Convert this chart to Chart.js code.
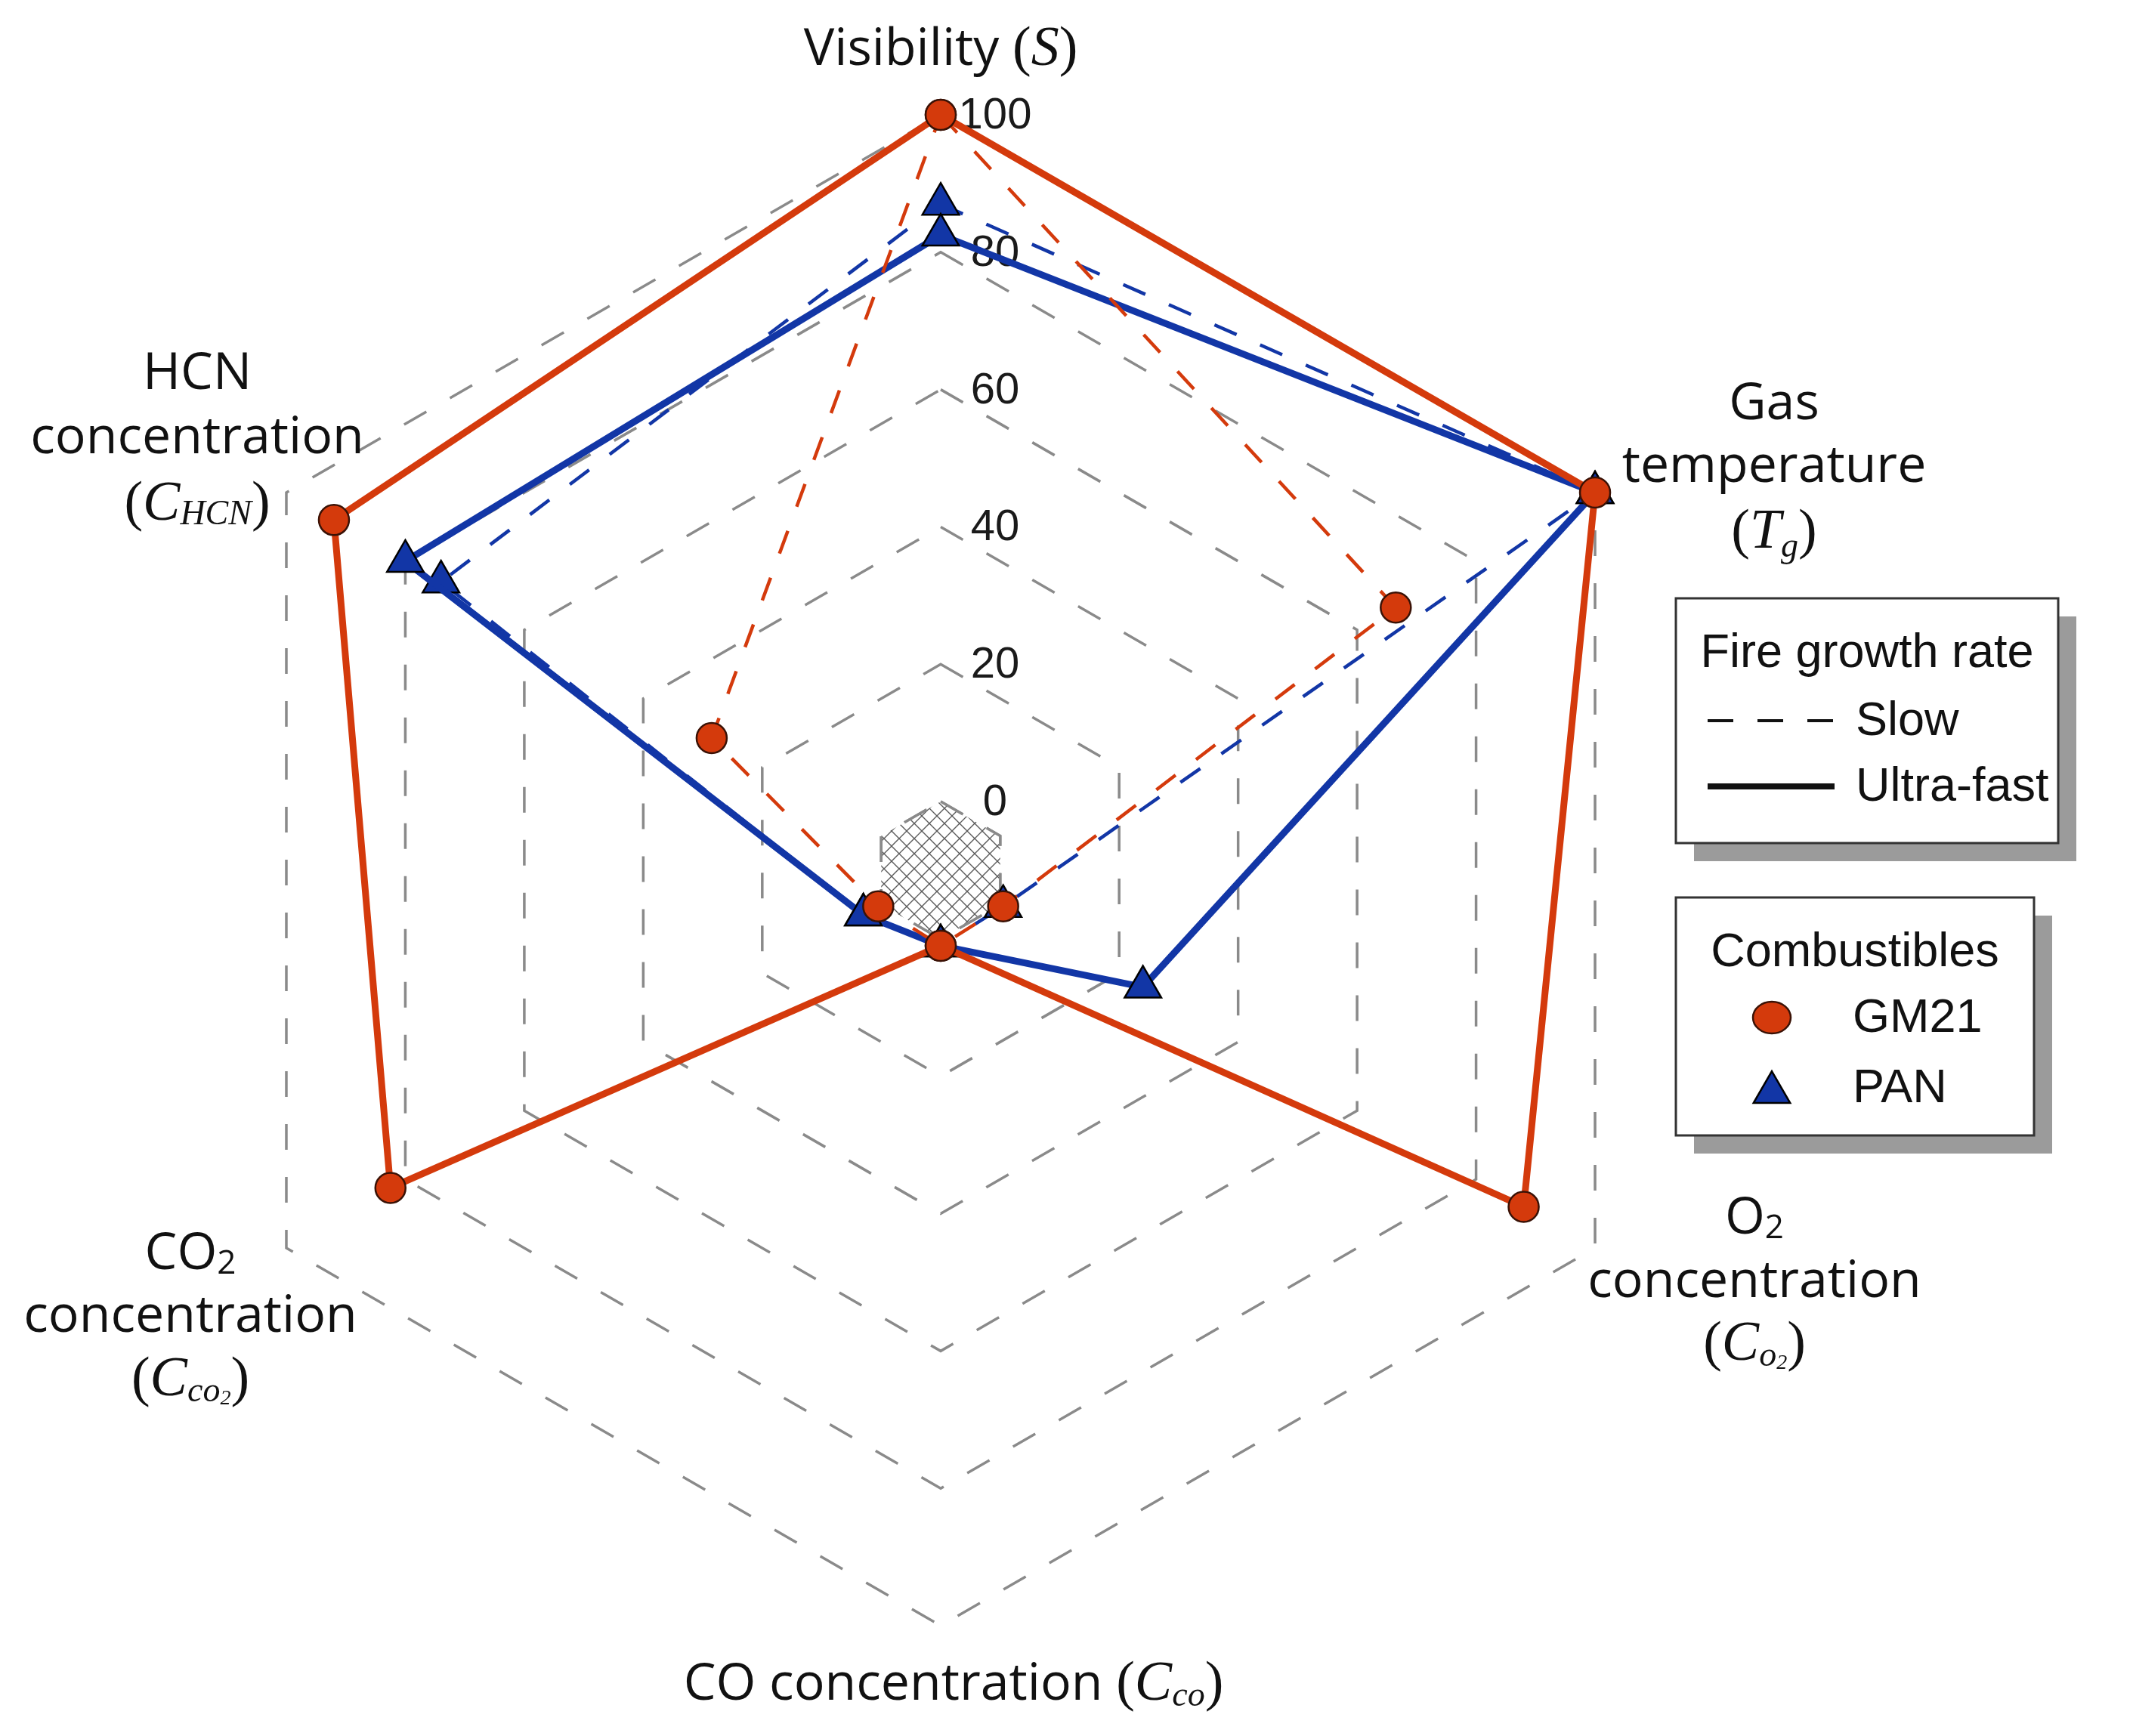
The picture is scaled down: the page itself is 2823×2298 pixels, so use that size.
<!DOCTYPE html>
<html><head><meta charset="utf-8">
<script src="https://cdn.jsdelivr.net/npm/chart.js@4.4.1/dist/chart.umd.min.js"></script>
<style>html,body{margin:0;padding:0;background:#fff;}canvas{display:block;}</style>
</head><body>
<canvas id="c" width="2823" height="2298"></canvas>
<script>
// ---- data ----
const axisNames = ['Visibility', 'Gas temperature', 'O2 concentration', 'CO concentration', 'CO2 concentration', 'HCN concentration'];
const gm21Slow  = [100, 66.5, 0.5, 1, 0.5, 28.5];
const gm21Ultra = [100, 100, 88, 1, 82.5, 92];
const panSlow   = [87, 100, 0.5, 1, 3, 74];
const panUltra  = [82.5, 100, 24, 1, 3, 80];
const tickValues = [0, 20, 40, 60, 80, 100];
const scaleMin = -10, scaleMax = 100;
const legendRateTitle = 'Fire growth rate';
const legendRateItems = ['Slow', 'Ultra-fast'];
const legendFuelTitle = 'Combustibles';
const legendFuelItems = ['GM21', 'PAN'];

const RED = '#d43a0c', BLUE = '#1236a6';
const RED_EDGE = '#3a1206', BLUE_EDGE = '#000000';
const DASH = [32, 34];

const SANS = '"Open Sans", "Liberation Sans", Arial, sans-serif';
const SERIF = '"Liberation Serif", "Times New Roman", serif';
const LSANS = '"Liberation Sans", Arial, sans-serif';

function makeHatch(ctx) {
  const s = 20;
  const p = document.createElement('canvas'); p.width = s; p.height = s;
  const g = p.getContext('2d');
  g.fillStyle = '#ffffff'; g.fillRect(0, 0, s, s);
  g.strokeStyle = '#5a5a5a'; g.lineWidth = 1.4;
  g.beginPath();
  g.moveTo(0, 0); g.lineTo(s, s);
  g.moveTo(s, 0); g.lineTo(0, s);
  g.stroke();
  return ctx.createPattern(p, 'repeat');
}

function drawRuns(ctx, runs, cx, baseline) {
  let total = 0;
  const ws = runs.map(r => { ctx.font = r[1]; const w = ctx.measureText(r[0]).width; total += w; return w; });
  let x = cx - total / 2;
  ctx.textAlign = 'left'; ctx.textBaseline = 'alphabetic';
  runs.forEach((r, i) => { ctx.font = r[1]; ctx.fillText(r[0], x, baseline + (r[2] || 0)); x += ws[i]; });
}

const F_SANS = '68px ' + SANS;
const F_SUB2 = '44px ' + SANS;
const F_SER = '74px ' + SERIF;
const F_SERI = 'italic 74px ' + SERIF;
const F_SUBI = 'italic 46px ' + SERIF;
const F_TINY = 'italic 28px ' + SERIF;

// label layout: [dx (in radii), [baseline dy...], lines]
const labelDefs = [
  [0.0, [-1.066], [[['Visibility ', F_SANS], ['(', F_SER], ['S', F_SERI], [')', F_SER]]]],
  [1.103, [-0.597, -0.514, -0.427], [[['Gas', F_SANS]], [['temperature', F_SANS]], [['(', F_SER], ['T', F_SERI], ['g', F_SUBI, 12], [')', F_SER]]]],
  [1.077, [0.481, 0.565, 0.648], [[['O', F_SANS], ['2', F_SUB2, 6]], [['concentration', F_SANS]], [['(', F_SER], ['C', F_SERI], ['o', F_SUBI, 8], ['2', F_TINY, 12], [')', F_SER]]]],
  [0.017, [1.098], [[['CO concentration ', F_SANS], ['(', F_SER], ['C', F_SERI], ['co', F_SUBI, 8], [')', F_SER]]]],
  [-0.993, [0.528, 0.611, 0.695], [[['CO', F_SANS], ['2', F_SUB2, 6]], [['concentration', F_SANS]], [['(', F_SER], ['C', F_SERI], ['co', F_SUBI, 8], ['2', F_TINY, 12], [')', F_SER]]]],
  [-0.984, [-0.637, -0.552, -0.464], [[['HCN', F_SANS]], [['concentration', F_SANS]], [['(', F_SER], ['C', F_SERI], ['HCN', F_SUBI, 6], [')', F_SER]]]]
];

const hatchPlugin = {
  id: 'hatchAndTicks',
  beforeDatasetsDraw(chart) {
    const s = chart.scales.r, ctx = chart.ctx;
    const n = chart.data.labels.length;
    ctx.save();
    ctx.beginPath();
    for (let i = 0; i < n; i++) {
      const p = s.getPointPositionForValue(i, 0);
      if (i === 0) ctx.moveTo(p.x, p.y); else ctx.lineTo(p.x, p.y);
    }
    ctx.closePath();
    ctx.fillStyle = makeHatch(ctx);
    ctx.fill();
    ctx.setLineDash([34, 36]);
    ctx.strokeStyle = '#8a8a8a'; ctx.lineWidth = 3.5;
    ctx.stroke();
    ctx.restore();
    // tick labels
    ctx.save();
    ctx.fillStyle = '#1a1a1a';
    ctx.font = '58px ' + LSANS;
    ctx.textAlign = 'center'; ctx.textBaseline = 'middle';
    tickValues.forEach(v => {
      const p = s.getPointPositionForValue(0, v);
      ctx.fillText(String(v), p.x + s.drawingArea * 0.072, p.y + 2);
    });
    ctx.restore();
  },
  afterDraw(chart) {
    const s = chart.scales.r, ctx = chart.ctx;
    const R = s.drawingArea;
    ctx.save();
    ctx.fillStyle = '#111';
    labelDefs.forEach(d => {
      const cx = s.xCenter + d[0] * R;
      d[2].forEach((line, k) => drawRuns(ctx, line, cx, s.yCenter + d[1][k] * R));
    });
    ctx.restore();

    // legends
    const boxes = [
      {x: 2218, y: 792, w: 506, h: 324},
      {x: 2218, y: 1188, w: 474, h: 315}
    ];
    const sh = 24;
    ctx.save();
    boxes.forEach(b => {
      ctx.fillStyle = '#9b9b9b';
      ctx.fillRect(b.x + sh, b.y + sh, b.w, b.h);
      ctx.fillStyle = '#ffffff';
      ctx.fillRect(b.x, b.y, b.w, b.h);
      ctx.strokeStyle = '#333'; ctx.lineWidth = 3;
      ctx.strokeRect(b.x, b.y, b.w, b.h);
    });
    ctx.fillStyle = '#111';
    ctx.font = '63px ' + LSANS;
    ctx.textBaseline = 'middle';
    ctx.textAlign = 'center';
    ctx.fillText(legendRateTitle, boxes[0].x + boxes[0].w / 2, 866);
    ctx.fillText(legendFuelTitle, boxes[1].x + boxes[1].w / 2, 1262);
    ctx.textAlign = 'left';
    ctx.fillText(legendRateItems[0], 2456, 956);
    ctx.fillText(legendRateItems[1], 2456, 1043);
    ctx.fillText(legendFuelItems[0], 2452, 1349);
    ctx.fillText(legendFuelItems[1], 2452, 1442);
    // line samples
    ctx.strokeStyle = '#111';
    ctx.lineWidth = 4;
    ctx.setLineDash([34, 32]);
    ctx.beginPath(); ctx.moveTo(2260, 954); ctx.lineTo(2428, 954); ctx.stroke();
    ctx.setLineDash([]);
    ctx.lineWidth = 8;
    ctx.beginPath(); ctx.moveTo(2260, 1041); ctx.lineTo(2428, 1041); ctx.stroke();
    // marker samples
    ctx.lineWidth = 2.5;
    ctx.fillStyle = RED; ctx.strokeStyle = RED_EDGE;
    ctx.beginPath(); ctx.ellipse(2345, 1347, 25, 21, 0, 0, Math.PI * 2); ctx.fill(); ctx.stroke();
    const tr = 28;
    ctx.fillStyle = BLUE; ctx.strokeStyle = BLUE_EDGE;
    ctx.beginPath();
    for (let k = 0; k < 3; k++) {
      const a = k * 2 * Math.PI / 3;
      const px = 2345 + Math.sin(a) * tr, py = 1446 - Math.cos(a) * tr;
      if (k === 0) ctx.moveTo(px, py); else ctx.lineTo(px, py);
    }
    ctx.closePath(); ctx.fill(); ctx.stroke();
    ctx.restore();
  }
};

function ds(label, data, color, edge, style, radius, dashed) {
  return {
    label, data,
    borderColor: color,
    borderWidth: dashed ? 4.5 : 9,
    borderDash: dashed ? DASH : [],
    backgroundColor: color,
    fill: false,
    tension: 0,
    clip: false,
    pointStyle: style,
    pointRadius: radius,
    pointBackgroundColor: color,
    pointBorderColor: edge,
    pointBorderWidth: 2.5,
    pointHoverRadius: radius
  };
}

const ctx = document.getElementById('c').getContext('2d');
new Chart(ctx, {
  type: 'radar',
  data: {
    labels: axisNames,
    datasets: [
      ds('GM21 Ultra-fast', gm21Ultra, RED, RED_EDGE, 'circle', 20, false),
      ds('GM21 Slow', gm21Slow, RED, RED_EDGE, 'circle', 20, true),
      ds('PAN Ultra-fast', panUltra, BLUE, BLUE_EDGE, 'triangle', 28, false),
      ds('PAN Slow', panSlow, BLUE, BLUE_EDGE, 'triangle', 28, true)
    ]
  },
  options: {
    responsive: false,
    animation: false,
    layout: {padding: {left: 245, right: 578, top: 152, bottom: 146}},
    plugins: {legend: {display: false}, tooltip: {enabled: false}},
    scales: {
      r: {
        min: scaleMin, max: scaleMax,
        ticks: {display: false, stepSize: 20},
        pointLabels: {display: false},
        angleLines: {display: false},
        grid: {color: '#8a8a8a', lineWidth: 3.5},
        border: {dash: [34, 36]}
      }
    }
  },
  plugins: [hatchPlugin]
});
</script>
</body></html>
